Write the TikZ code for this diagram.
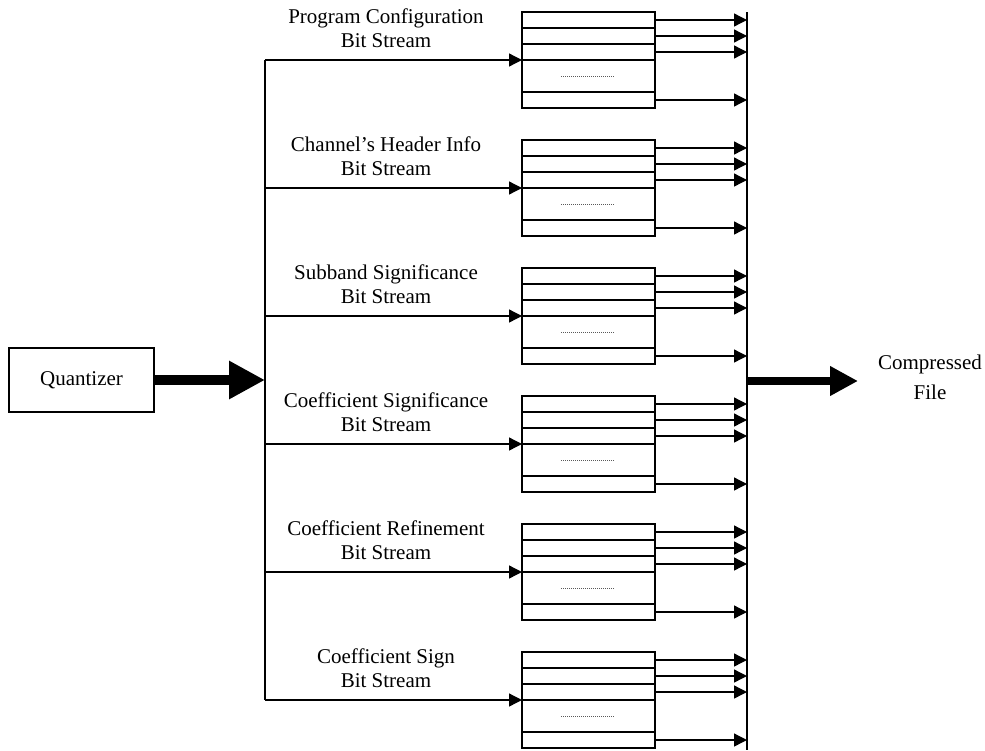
\documentclass[tikz,border=0pt]{standalone}
\usepackage{fontspec}
\setmainfont{Liberation Serif}
\usetikzlibrary{arrows.meta}
\begin{document}
\begin{tikzpicture}[x=1pt,y=-1pt,
  every node/.style={font=\fontsize{21}{24}\selectfont},
  wire/.style={line width=1.3pt},
  arr/.style={wire,-{Triangle[length=13pt,width=13pt]}},
  bigarr/.style={line width=#1pt,-{Triangle[length=#1*3.6pt,width=#1*3.6pt]}},
  stack/.style={draw,line width=1.3pt,minimum width=133pt,minimum height=96pt,inner sep=0pt,outer sep=0pt},
  filler/.style={line width=0.8pt,gray!70!black,dash pattern=on 1pt off 1pt},
  streamlabel/.style={align=center,inner sep=0pt},
  box/.style={draw,line width=1.3pt,minimum width=145pt,minimum height=64pt,inner sep=0pt,outer sep=0pt}
]
\useasboundingbox (0,0) rectangle (985,750);

% source block and the two buses
\node[box] (q) at (81.5,380) {Quantizer};
\coordinate (lt) at (265,60);
\coordinate (lb) at (265,700);
\coordinate (rt) at (747,12);
\coordinate (rb) at (747,750);
\draw[wire] (lt) -- (lb);
\draw[wire] (rt) -- (rb);
\draw[line width=10pt,-{Triangle[length=36pt,width=36pt]}] (q.east) -- (q.east -| lt);

% one register stack per bit stream
\foreach \i/\t/\la/\lb in {
  1/12/Program Configuration/Bit Stream,
  2/140/Channel’s Header Info/Bit Stream,
  3/268/Subband Significance/Bit Stream,
  4/396/Coefficient Significance/Bit Stream,
  5/524/Coefficient Refinement/Bit Stream,
  6/652/Coefficient Sign/Bit Stream}{
  \node[stack,anchor=north west] (b\i) at (522,\t) {};
  \foreach \r in {16,32,48,80}
    \draw[wire] ([yshift=-\r pt]b\i.north west) -- ([yshift=-\r pt]b\i.north east);
  \draw[filler] ([xshift=39pt,yshift=-64pt]b\i.north west) -- ++(53,0);
  \node[streamlabel] (l\i) at (386,\t+16.5) {\la\\\lb};
  \draw[arr] (b\i.west -| lt) -- (b\i.west);
  \foreach \r/\n in {8/a,24/b,40/c,88/d}{
    \coordinate (s\i\n) at ([yshift=-\r pt]b\i.north east);
    \draw[arr] (s\i\n) -- (s\i\n -| rt);
  }
}

% output
\coordinate (om) at (747,381);
\node[align=center,inner sep=0pt,font=\fontsize{21}{30}\selectfont] (cf) at (930,377) {Compressed\\File};
\draw[line width=8pt,-{Triangle[length=28pt,width=28pt]}] (om) -- (858,381);
\end{tikzpicture}
\end{document}
